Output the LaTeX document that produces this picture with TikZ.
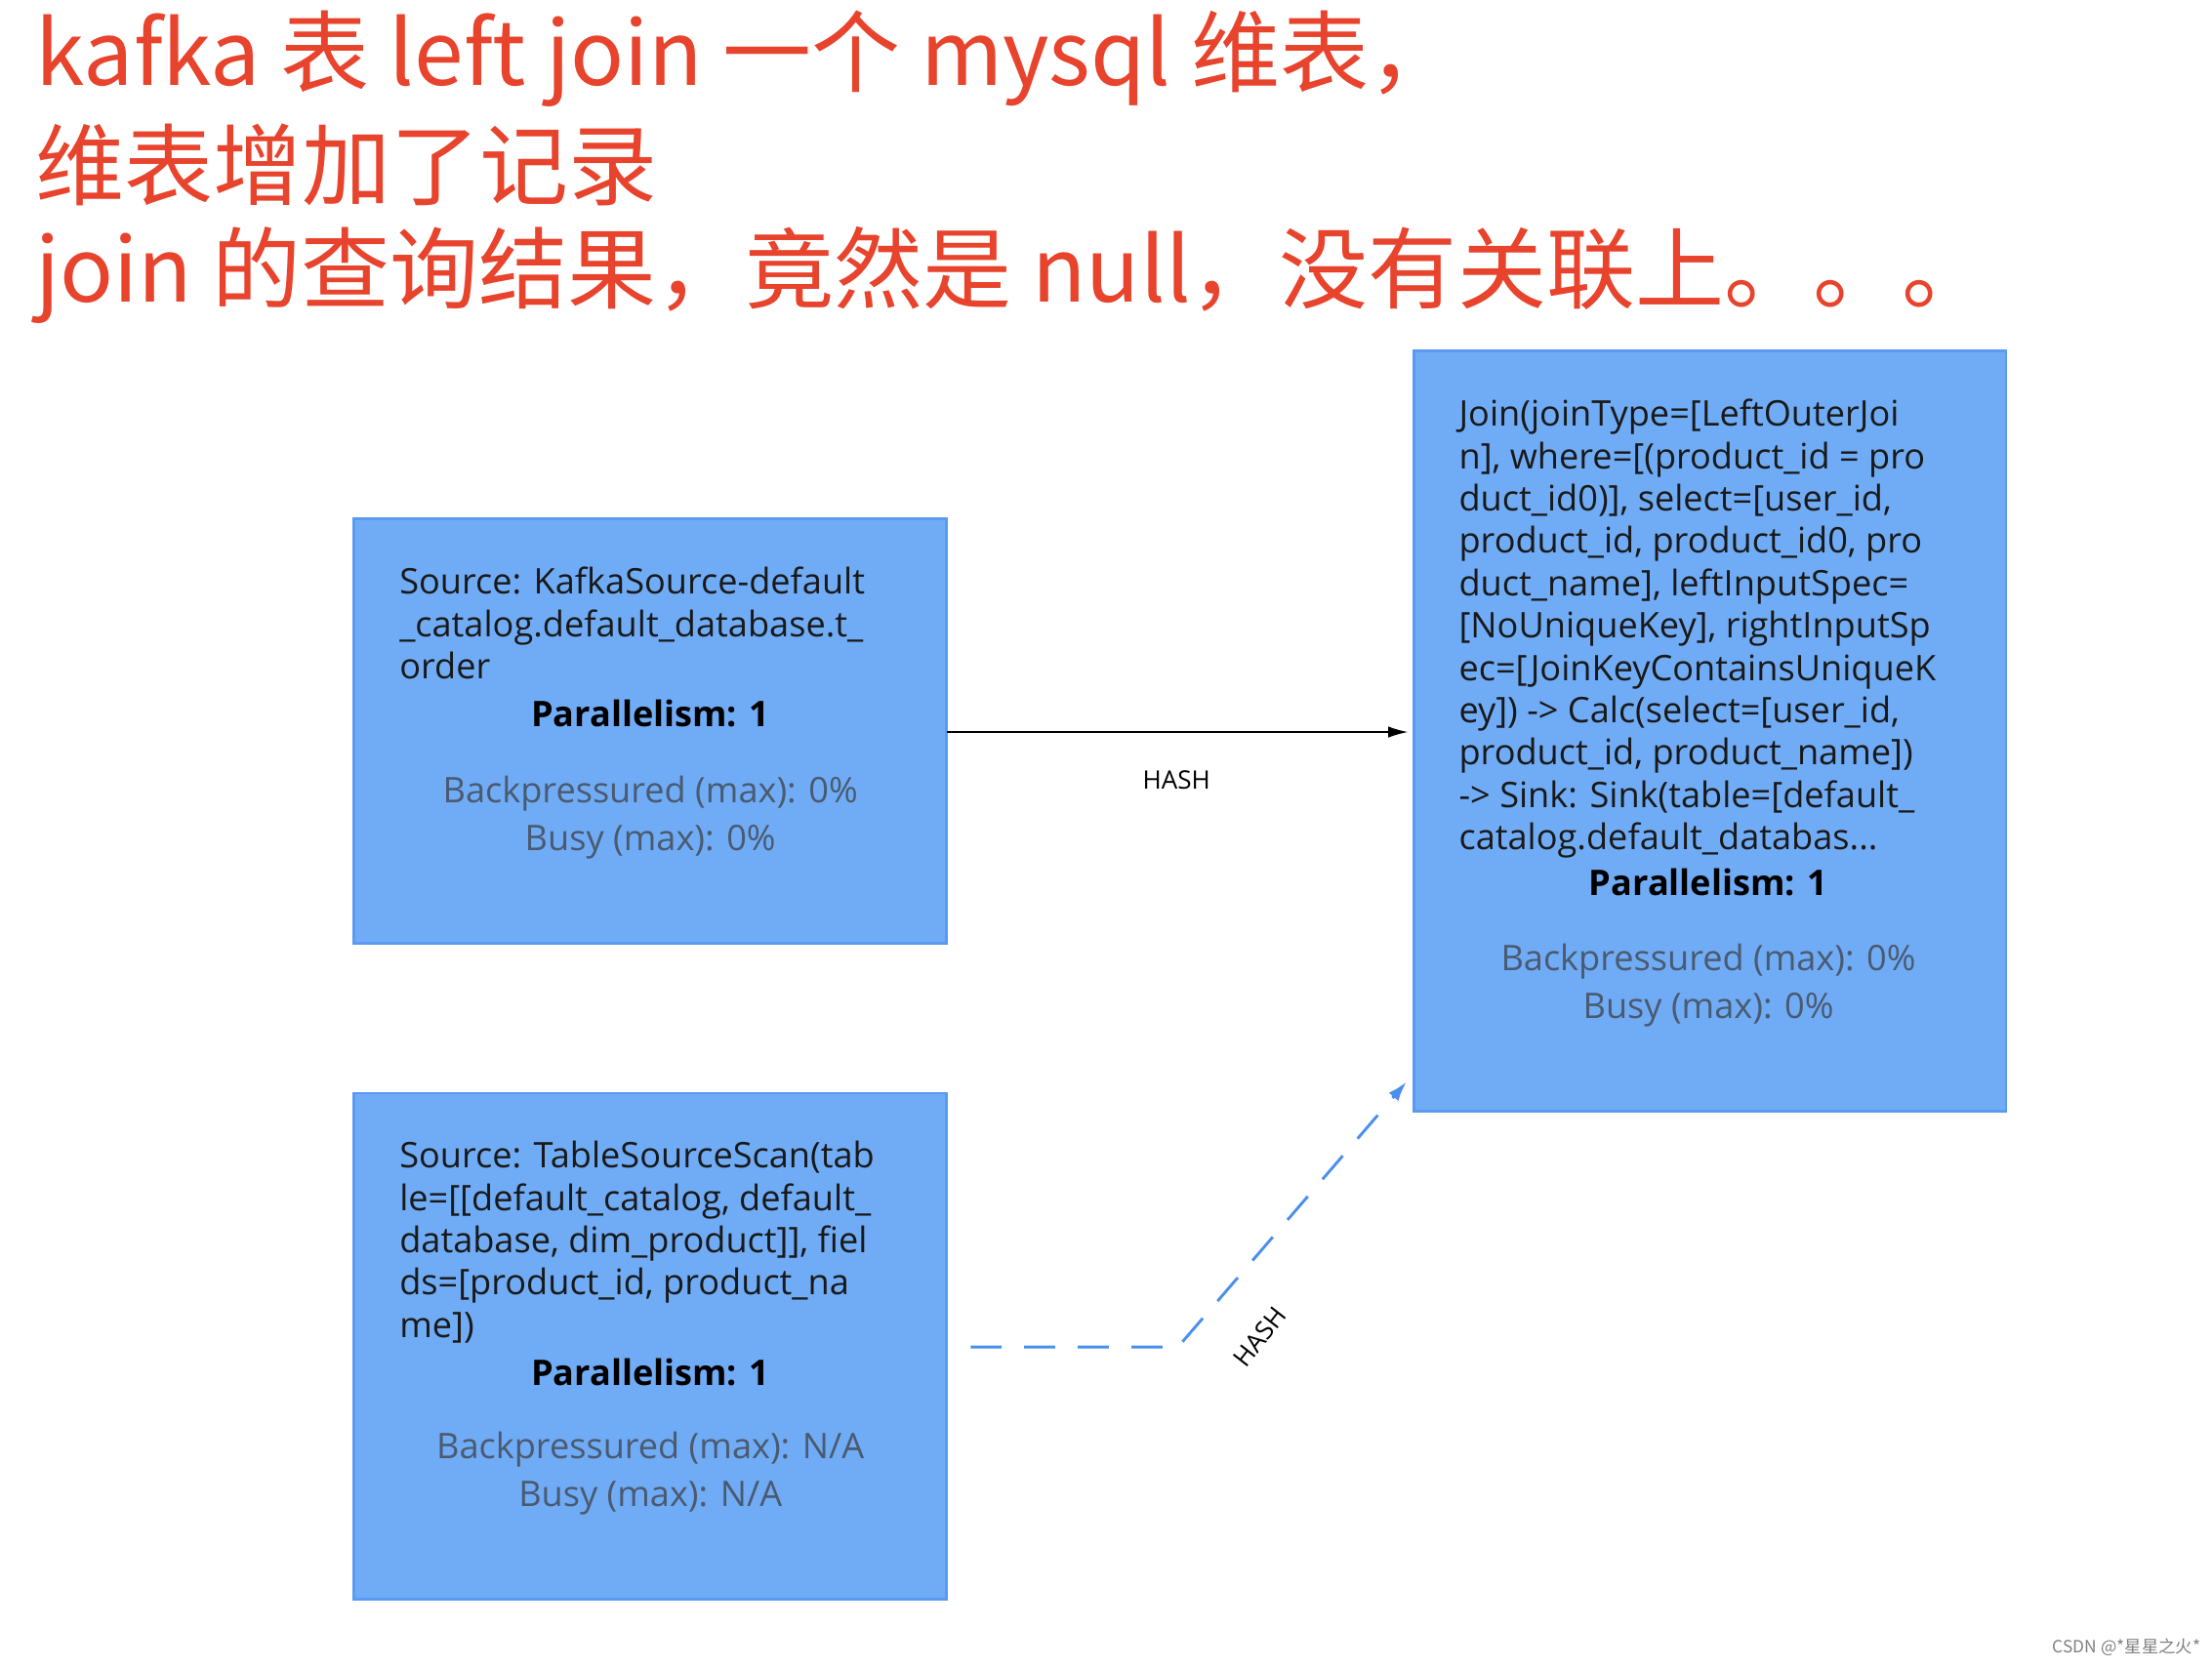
\documentclass[tikz,border=0pt]{standalone}
\usepackage{fontspec}
\setmainfont{Open Sans}
\newfontfamily\cjk{Noto Sans CJK SC}
\usetikzlibrary{arrows.meta}
\definecolor{boxfill}{HTML}{70ACF6}
\definecolor{boxline}{HTML}{5A9AF0}
\definecolor{titlered}{HTML}{E8432C}
\definecolor{muted}{HTML}{4A5A70}
\definecolor{dashblue}{HTML}{4A8FEE}
\tikzset{
 box/.style={draw=boxline,line width=2pt,fill=boxfill},
 body/.style={anchor=north west,align=left,inner sep=0pt,font=\fontsize{25}{30}\selectfont,text=black!90},
 par/.style={anchor=north,inner sep=0pt,font=\fontsize{25}{30}\selectfont\bfseries},
 stat/.style={anchor=north,align=center,inner sep=0pt,font=\fontsize{25}{34}\selectfont,text=muted},
 title/.style={anchor=west,inner sep=0pt,text=titlered,font=\cjk\fontsize{63}{64}\selectfont},
 lbl/.style={inner sep=0pt,font=\fontsize{18}{20}\selectfont}
}
\begin{document}
\begin{tikzpicture}[x=1pt,y=-1pt]
\useasboundingbox[fill=white] (0,0) rectangle (1568,1182);
\node[title] (t1) at (25,42) {kafka 表 left join 一个 mysql 维表，};
\node[title] (t2) at (25,117) {维表增加了记录};
\node[title] (t3) at (25,195) {join 的查询结果，竟然是 null，没有关联上。。。};

\draw[box] (251,368) rectangle (671,669);
\node[minimum width=420pt,minimum height=301pt,anchor=north west,inner sep=0pt] (a) at (251,368) {};
\node[body] (atx) at (283,402) {Source: KafkaSource-default\\\_catalog.default\_database.t\_\\order};
\node[par] (ap) at (461,496) {Parallelism: 1};
\node[stat] (as) at (461,550) {Backpressured (max): 0\%\\Busy (max): 0\%};

\draw[box] (251,775) rectangle (671,1134);
\node[minimum width=420pt,minimum height=359pt,anchor=north west,inner sep=0pt] (b) at (251,775) {};
\node[body] (btx) at (283,809) {Source: TableSourceScan(tab\\le={}[[default\_catalog, default\_\\database, dim\_product]], fiel\\ds={}[product\_id, product\_na\\me])};
\node[par] (bp) at (461,963) {Parallelism: 1};
\node[stat] (bs) at (461,1015) {Backpressured (max): N/A\\Busy (max): N/A};

\draw[box] (1002,249) rectangle (1422,788);
\node[minimum width=420pt,minimum height=539pt,anchor=north west,inner sep=0pt] (c) at (1002,249) {};
\node[body] (ctx) at (1034,283) {Join(joinType={}[LeftOuterJoi\\n], where={}[(product\_id = pro\\duct\_id0)], select={}[user\_id,\\product\_id, product\_id0, pro\\duct\_name], leftInputSpec=\\{}[NoUniqueKey], rightInputSp\\ec={}[JoinKeyContainsUniqueK\\ey]) -> Calc(select={}[user\_id,\\product\_id, product\_name])\\-> Sink: Sink(table={}[default\_\\catalog.default\_databas...};
\node[par] (cp) at (1211,616) {Parallelism: 1};
\node[stat] (cs) at (1211,669) {Backpressured (max): 0\%\\Busy (max): 0\%};

\coordinate (e1) at (998,519);
\draw[-{Latex[length=14pt,width=8pt]},line width=1pt] (a.east |- e1) -- (e1);
\node[lbl] (h1) at (834,553) {HASH};

\coordinate (s2) at (688,955);
\coordinate (m2) at (835,955);
\coordinate (e2) at (997,767);
\draw[dashblue,line width=2pt,dash pattern=on 22pt off 16pt,-{Latex[length=14pt,width=9pt]}] (s2) -- (m2) -- (e2);
\node[lbl,rotate=52] (h2) at (893,948) {HASH};

\node[anchor=east,inner sep=0pt,text=gray,font=\cjk\fontsize{12}{14}\selectfont] (wm) at (1560,1168) {CSDN @*星星之火*};
\end{tikzpicture}
\end{document}
